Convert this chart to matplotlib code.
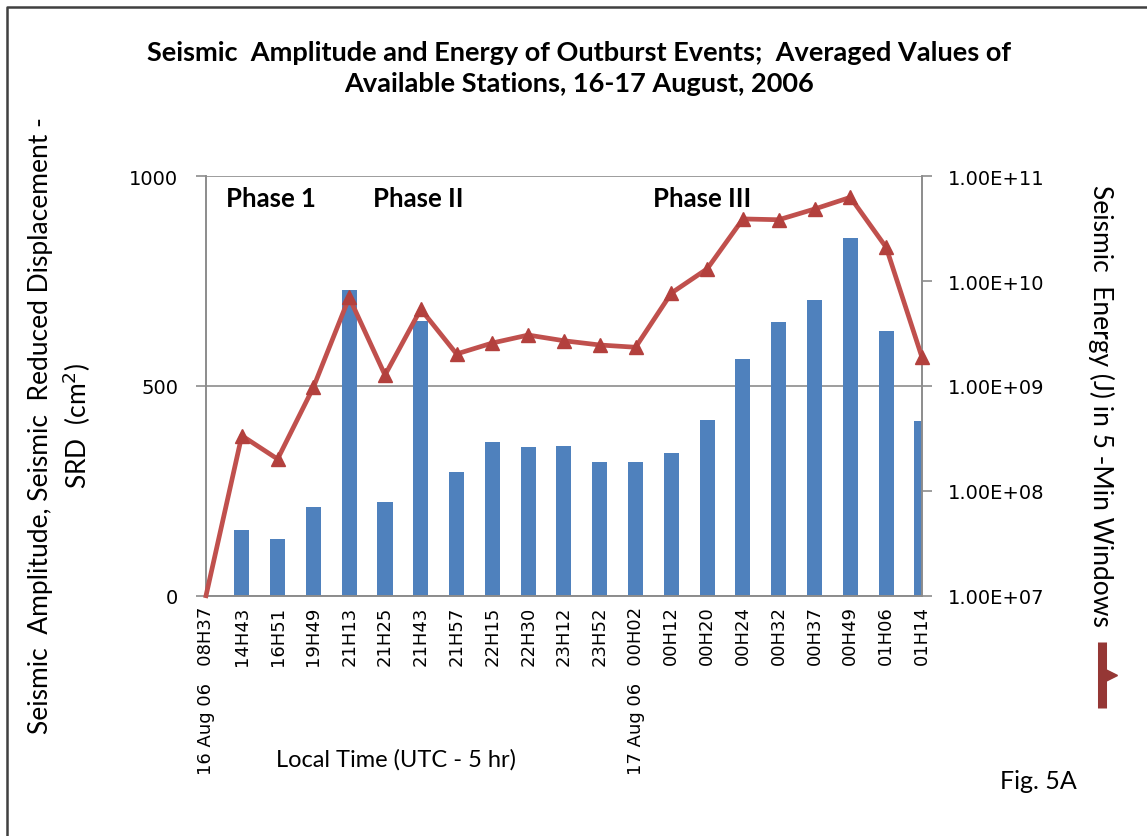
import matplotlib.pyplot as plt
from matplotlib.lines import Line2D
import numpy as np

# data
times = ['08H37', '14H43', '16H51', '19H49', '21H13', '21H25', '21H43', '21H57',
         '22H15', '22H30', '23H12', '23H52', '00H02', '00H12', '00H20', '00H24',
         '00H32', '00H37', '00H49', '01H06', '01H14']
day_marks = {0: '16 Aug 06', 12: '17 Aug 06'}
srd = [0, 157, 135, 212, 730, 223, 656, 296, 367, 355, 358, 318, 318, 340,
       420, 564, 653, 706, 854, 631, 417]
energy = [1.0e7, 3.36e8, 2.01e8, 9.7e8, 7.0e9, 1.27e9, 5.4e9, 2.02e9, 2.57e9,
          3.06e9, 2.7e9, 2.46e9, 2.34e9, 7.7e9, 1.31e10, 3.92e10, 3.85e10,
          4.87e10, 6.3e10, 2.1e10, 1.88e9]
phases = ['Phase 1', 'Phase II', 'Phase III']
phase_x = [0.56, 4.66, 12.49]

bar_color = '#4F81BD'
line_color = '#C0504D'
key_color = '#953735'
title_font = 'Lato'

fig = plt.figure(figsize=(11.47, 8.37), dpi=100)
ax = fig.add_axes([0.1796, 0.2871, 0.6242, 0.5011])
x = np.arange(len(times))

ax.bar(x, srd, width=0.42, color=bar_color, zorder=2)
ax.set_xlim(0, 20)
ax.set_ylim(0, 1000)
ax.set_yticks([0, 500, 1000])
ax.grid(axis='y', color='#8c8c8c', linewidth=1.2, zorder=0)
for s in ['left', 'bottom', 'right']:
    ax.spines[s].set_color('#8c8c8c')
    ax.spines[s].set_linewidth(1.2)
ax.spines['top'].set_visible(False)
ax.tick_params(axis='y', labelsize=14, color='#8c8c8c', length=7, width=1.2, pad=13)

labels = []
for i, t in enumerate(times):
    if i in day_marks:
        labels.append(day_marks[i] + '   ' + t)
    else:
        labels.append(t)
ax.set_xticks(x)
ax.set_xticklabels(labels, rotation=90, fontsize=13)
ax.tick_params(axis='x', length=0, pad=7)
# tick marks only every 5 categories
ax.set_xticks(x[::5], minor=True)
ax.tick_params(axis='x', which='minor', length=7, width=1.2, color='#8c8c8c')

for name, px in zip(phases, phase_x):
    ax.text(px, 948, name, fontsize=18.5, fontweight='bold', family=title_font,
            ha='left', va='center')

ax2 = ax.twinx()
ax2.set_yscale('log')
ax2.set_ylim(1e7, 1e11)
ax2.plot(x, energy, color=line_color, linewidth=3.4, marker='^', markersize=10,
         markerfacecolor='#B3403D', markeredgecolor='#B3403D',
         markevery=list(range(1, len(times))), clip_on=False, zorder=3)
ax2.set_yticks([1e7, 1e8, 1e9, 1e10, 1e11])
ax2.set_yticklabels(['1.00E+07', '1.00E+08', '1.00E+09', '1.00E+10', '1.00E+11'])
ax2.yaxis.set_minor_locator(plt.NullLocator())
ax2.tick_params(axis='y', labelsize=14, color='#8c8c8c', length=7, width=1.2, pad=12)
for s in ['left', 'bottom', 'right']:
    ax2.spines[s].set_color('#8c8c8c')
    ax2.spines[s].set_linewidth(1.2)
ax2.spines['top'].set_visible(False)

fig.text(0.505, 0.918, 'Seismic  Amplitude and Energy of Outburst Events;  Averaged Values of\n'
         'Available Stations, 16-17 August, 2006', ha='center', va='center',
         fontsize=19.5, fontweight='bold', family=title_font, linespacing=1.35)

fig.text(0.053, 0.491, 'Seismic  Amplitude, Seismic  Reduced Displacement -\nSRD  (cm$^2$)',
         rotation=90, ha='center', va='center', fontsize=19, family=title_font,
         linespacing=1.3)
fig.text(0.96, 0.515, 'Seismic  Energy (J) in 5 -Min Windows', rotation=270,
         ha='center', va='center', fontsize=19, family=title_font)
fig.text(0.345, 0.092, 'Local Time (UTC - 5 hr)', ha='center', va='center',
         fontsize=17, family=title_font)
fig.text(0.905, 0.066, 'Fig. 5A', ha='center', va='center', fontsize=18,
         family=title_font)

# legend key for the energy series, drawn beside the right axis title
fig.lines.append(Line2D([1101.5 / 1147, 1101.5 / 1147], [1 - 643 / 837, 1 - 709 / 837],
                        transform=fig.transFigure, color=key_color, linewidth=6.5,
                        solid_capstyle='butt'))
fig.lines.append(Line2D([1109 / 1147], [1 - 676 / 837], transform=fig.transFigure,
                        marker='>', markersize=11, color=key_color, linestyle='none'))

# page border (left and top only are visible)
fig.lines.append(Line2D([7 / 1147, 7 / 1147, 1.0], [0.0, 1 - 8 / 837, 1 - 8 / 837],
                        transform=fig.transFigure, color='#404040', linewidth=1.8))

fig.savefig('out.png', dpi=100)
plt.close()
